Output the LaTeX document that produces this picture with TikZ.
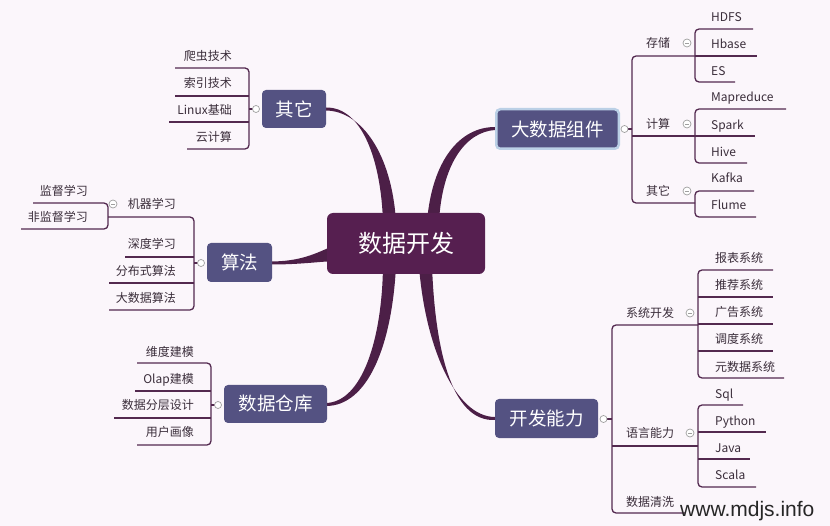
\documentclass[tikz,border=0pt]{standalone}
\usepackage{fontspec}
\setmainfont{Noto Sans CJK SC}
\newfontfamily\wmfont{Liberation Sans}
\definecolor{bg}{HTML}{FBF6FB}
\definecolor{central}{HTML}{561F50}
\definecolor{topic}{HTML}{545282}
\definecolor{conn}{HTML}{4C1F47}
\definecolor{lin}{HTML}{53294F}
\definecolor{txt}{HTML}{3A2D3A}
\definecolor{selb}{HTML}{BBD0E6}
\begin{document}
\begin{tikzpicture}[x=1pt,y=-1pt,
 leaf/.style={font=\fontsize{12}{13}\selectfont, text=txt, inner sep=0pt},
 leafw/.style={leaf, anchor=base west, yshift=-4.6pt},
 leafe/.style={leaf, anchor=base east, yshift=-4.6pt},
 leafc/.style={leaf, anchor=base, yshift=-4.6pt},
 topicbox/.style={fill=topic, rounded corners=4pt, text=white, font=\fontsize{18.5}{20}\selectfont, inner sep=0pt},
 trunk/.style={draw=lin, line width=1.3pt, rounded corners=4pt},
 ul/.style={draw=lin, line width=1.3pt},
 connf/.style={fill=conn},
 tog/.style={circle, draw=gray!75, fill=white, line width=0.7pt, minimum size=7pt, inner sep=0pt},
 togm/.style={tog, minimum size=8pt, path picture={\draw[gray!75, line width=0.7pt] ([xshift=-2pt]path picture bounding box.center) -- ([xshift=2pt]path picture bounding box.center);}},
]
\useasboundingbox (0,0) rectangle (830,526);
\fill[bg] (0,0) rectangle (830,526);

% tapered main connectors
\fill[connf] (326,107.5) .. controls (362,107) and (381,160) .. (383,222) -- (396,222) .. controls (392,155) and (362,111) .. (326,110.5) -- cycle;
\fill[connf] (427,222) .. controls (432,160) and (460,127) .. (495,127) -- (495,130) .. controls (465,132) and (442,165) .. (439,222) -- cycle;
\fill[connf] (270,261.5) .. controls (300,261.5) and (315,254) .. (335,245) -- (335,261) .. controls (315,262) and (300,264.5) .. (270,264.5) -- cycle;
\fill[connf] (383,266) .. controls (382,340) and (362,402) .. (326,403) -- (326,406) .. controls (368,406) and (392,345) .. (396,266) -- cycle;
\fill[connf] (419,266) .. controls (425,345) and (455,417) .. (495,417) -- (495,420) .. controls (450,422) and (435,345) .. (432,266) -- cycle;

% central and topic nodes
\node[fill=central, rounded corners=6pt, text=white, font=\fontsize{24}{26}\selectfont, minimum width=158pt, minimum height=61pt, inner sep=0pt] (c) at (406,243.5) {数据开发};
\node[topicbox, minimum width=64pt, minimum height=38pt] (qita) at (294,109) {其它};
\node[topicbox, minimum width=65pt, minimum height=39pt] (sf) at (239.5,262.5) {算法};
\node[topicbox, minimum width=103pt, minimum height=38pt] (ck) at (275.5,404) {数据仓库};
\node[topicbox, draw=selb, line width=2.5pt, minimum width=122.5pt, minimum height=39.5pt] (dsj) at (557.5,129) {大数据组件};
\node[topicbox, minimum width=103pt, minimum height=39pt] (kf) at (546.5,418.5) {开发能力};

% ---- 大数据组件 tree
\draw[trunk] (695,56) -- (632,56) -- (632,203) -- (695,203);
\draw[ul] (632,136) -- (695,136);
\draw[ul] (628,129) -- (632,129);
\node[tog] (t1) at (624.5,129) {};
\draw[trunk] (753,29) -- (695,29) -- (695,82) -- (735,82);
\draw[ul] (695,56) -- (757,56);
\draw[trunk] (786,109) -- (695,109) -- (695,163) -- (747,163);
\draw[ul] (695,136) -- (755,136);
\draw[trunk] (754,191) -- (695,191) -- (695,217) -- (756,217);
\node[togm] (t1a) at (687,43) {};
\node[togm] (t1b) at (687,124) {};
\node[togm] (t1c) at (687,191) {};
\node[leafc] (cc) at (658,43) {存储};
\node[leafc] (js) at (658,124) {计算};
\node[leafc] (qt2) at (658,191) {其它};
\node[leafw] (l1) at (711,17) {HDFS};
\node[leafw] (l2) at (711,44) {Hbase};
\node[leafw] (l3) at (711,71) {ES};
\node[leafw] (l4) at (711,97) {Mapreduce};
\node[leafw] (l5) at (711,125) {Spark};
\node[leafw] (l6) at (711,152) {Hive};
\node[leafw] (l7) at (711,178) {Kafka};
\node[leafw] (l8) at (711,205) {Flume};

% ---- 开发能力 tree
\draw[trunk] (698,325) -- (612,325) -- (612,513) -- (685,513);
\draw[ul] (612,446) -- (698,446);
\draw[ul] (607,419) -- (612,419);
\node[tog] (t2) at (603.5,419) {};
\draw[trunk] (773,270) -- (698,270) -- (698,378) -- (784,378);
\draw[ul] (698,297) -- (773,297);
\draw[ul] (698,324) -- (773,324);
\draw[ul] (698,351) -- (773,351);
\draw[trunk] (743,405) -- (698,405) -- (698,487) -- (756,487);
\draw[ul] (698,432) -- (766,432);
\draw[ul] (698,459) -- (750,459);
\node[togm] (t2a) at (690,313) {};
\node[togm] (t2b) at (690,433) {};
\node[leafc] (xt) at (650,313) {系统开发};
\node[leafc] (yy) at (650,433) {语言能力};
\node[leafc] (qx) at (650,502) {数据清洗};
\node[leafw] (m1) at (715,258) {报表系统};
\node[leafw] (m2) at (715,285) {推荐系统};
\node[leafw] (m3) at (715,312) {广告系统};
\node[leafw] (m4) at (715,339) {调度系统};
\node[leafw] (m5) at (715,367) {元数据系统};
\node[leafw] (m6) at (715,394) {Sql};
\node[leafw] (m7) at (715,421) {Python};
\node[leafw] (m8) at (715,448) {Java};
\node[leafw] (m9) at (715,475) {Scala};

% ---- 其它 (left) tree
\draw[trunk] (175,68) -- (249,68) -- (249,149) -- (187,149);
\draw[ul] (175,96) -- (249,96);
\draw[ul] (169,122) -- (249,122);
\draw[ul] (249,109) -- (252.5,109);
\node[tog] (t3) at (256,109) {};
\node[leafe] (n1) at (232,56) {爬虫技术};
\node[leafe] (n2) at (232,83) {索引技术};
\node[leafe] (n3) at (232,110) {Linux基础};
\node[leafe] (n4) at (232,137) {云计算};

% ---- 算法 tree
\draw[trunk] (108,217) -- (194,217) -- (194,310) -- (109,310);
\draw[ul] (125,257) -- (194,257);
\draw[ul] (109,283) -- (194,283);
\draw[ul] (194,263) -- (197.5,263);
\node[tog] (t4) at (201,263) {};
\draw[trunk] (33,203) -- (108,203) -- (108,229) -- (21,229);
\node[togm] (t4a) at (113,204) {};
\node[leafe] (s1) at (176,204) {机器学习};
\node[leafe] (s2) at (176,244) {深度学习};
\node[leafe] (s3) at (176,271) {分布式算法};
\node[leafe] (s4) at (176,298) {大数据算法};
\node[leafe] (s5) at (88,191) {监督学习};
\node[leafe] (s6) at (88,217) {非监督学习};

% ---- 数据仓库 tree
\draw[trunk] (137,363) -- (211,363) -- (211,445) -- (137,445);
\draw[ul] (135,391) -- (211,391);
\draw[ul] (114,418) -- (211,418);
\draw[ul] (211,405) -- (214.5,405);
\node[tog] (t5) at (218,405) {};
\node[leafe] (d1) at (194,352) {维度建模};
\node[leafe] (d2) at (194,379) {Olap建模};
\node[leafe] (d3) at (194,405) {数据分层设计};
\node[leafe] (d4) at (194,432) {用户画像};

% watermark
\node[font=\wmfont\fontsize{21}{22}\selectfont, text=black!85, anchor=base west, inner sep=0pt] (wm) at (680,516) {www.mdjs.info};
\end{tikzpicture}
\end{document}
